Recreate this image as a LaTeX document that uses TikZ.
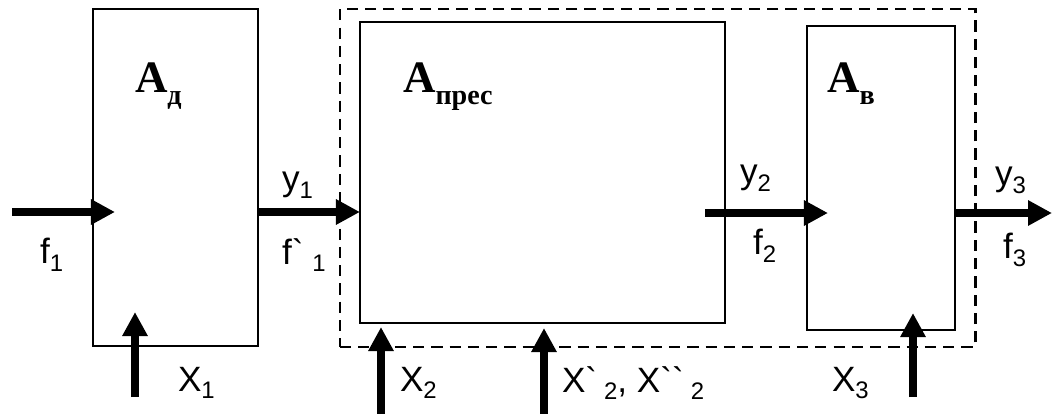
\documentclass[tikz,border=0pt]{standalone}
\usepackage{fontspec}
\setmainfont{Liberation Sans}
\newfontfamily\blkfont{Liberation Serif}
\usetikzlibrary{arrows.meta, calc, positioning}

\newcommand{\lb}[2]{#1\raisebox{-0.22em}{\fontsize{17}{20}\selectfont #2}}
\newcommand{\blktitle}[1]{{\blkfont\bfseries\fontsize{32}{36}\selectfont A}%
  \raisebox{-9pt}{\blkfont\bfseries\fontsize{20}{24}\selectfont #1}}

\begin{document}
\begin{tikzpicture}[x=0.025cm, y=-0.025cm,
  every node/.style={font=\fontsize{25}{30}\selectfont, inner sep=0pt, outer sep=0pt},
  blk/.style={draw, line width=2pt, rectangle},
  grp/.style={draw, line width=2pt, dash pattern=on 8pt off 5pt},
  arr/.style={line width=5pt, -{Triangle[length=6mm, width=6mm]}},
]
  \useasboundingbox (0,0) rectangle (1052,414);

  % blocks
  \node[grp, minimum width=15.875cm, minimum height=8.45cm] (grp) at (657.5,178) {};
  \node[blk, minimum width=4.125cm, minimum height=8.425cm] (Ad) at (175.5,177.5) {};
  \node[blk, minimum width=9.125cm, minimum height=7.525cm] (Apr) at (542.5,172.5) {};
  \node[blk, minimum width=3.7cm, minimum height=7.6cm] (Av) at (881,178) {};

  \node[anchor=base west] (tAd) at (135,92) {\blktitle{д}};
  \node[anchor=base west] (tApr) at (403,92) {\blktitle{прес}};
  \node[anchor=base west] (tAv) at (827,92) {\blktitle{в}};

  % free ends
  \coordinate (f1in) at (12,212);
  \coordinate (y2in) at (705,213);
  \coordinate (y3out) at (1052,213);
  \coordinate (x1in) at (135,397);
  \coordinate (x2in) at (381,414);
  \coordinate (x22in) at (544,414);
  \coordinate (x3in) at (913,397);

  \draw[arr] (f1in) -- ($(f1in -| Ad.west)+(22,0)$);
  \draw[arr] (Ad.east |- f1in) -- (Apr.west |- f1in);
  \draw[arr] (y2in) -- ($(y2in -| Av.west)+(21,0)$);
  \draw[arr] (Av.east |- y3out) -- (y3out);
  \draw[arr] (x1in) -- ($(x1in |- Ad.south)+(0,-34)$);
  \draw[arr] (x2in) -- ($(x2in |- Apr.south)+(0,4)$);
  \draw[arr] (x22in) -- ($(x22in |- Apr.south)+(0,5)$);
  \draw[arr] (x3in) -- ($(x3in |- Av.south)+(0,-17)$);

  % labels
  \node[anchor=west] (lf1) at (40,255) {\lb{f}{1}};
  \node[anchor=west] (ly1) at (282,185) {\lb{y}{1}};
  \node[anchor=west] (lf1b) at (282,255) {f\textasciigrave\hspace{0.25em}\lb{}{1}};
  \node[anchor=west] (lx1) at (178,383) {\lb{X}{1}};
  \node[anchor=west] (lx2) at (400,383) {\lb{X}{2}};
  \node[anchor=west] (lx22) at (562,383)
    {X\textasciigrave\hspace{0.2em}\lb{}{2}, X\textasciigrave\textasciigrave\hspace{0.2em}\lb{}{2}};
  \node[anchor=west] (lx3) at (832,383) {\lb{X}{3}};
  \node[anchor=west] (ly2) at (740,178) {\lb{y}{2}};
  \node[anchor=west] (lf2) at (753,246) {\lb{f}{2}};
  \node[anchor=west] (ly3) at (995,180) {\lb{y}{3}};
  \node[anchor=west] (lf3) at (1003,250) {\lb{f}{3}};
\end{tikzpicture}
\end{document}
